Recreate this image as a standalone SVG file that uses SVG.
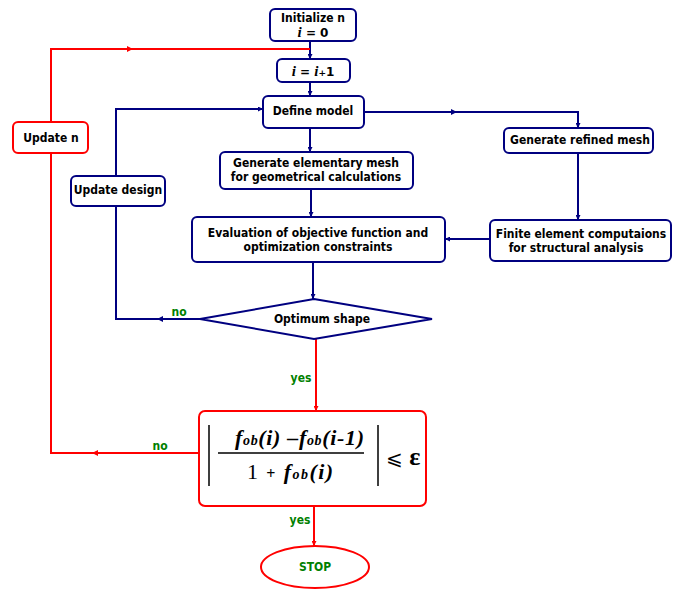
<svg xmlns="http://www.w3.org/2000/svg" width="677" height="589" viewBox="0 0 677 589">
<style>
.bb{fill:#fff;stroke:#000080;stroke-width:2}
.rb{fill:#fff;stroke:#ff0000;stroke-width:2}
.bl{fill:none;stroke:#000080;stroke-width:2}
.rl{fill:none;stroke:#ff0000;stroke-width:2}
.t{font-family:"DejaVu Sans Condensed","DejaVu Sans",Verdana,sans-serif;font-weight:bold;font-size:12px;fill:#000;text-anchor:middle}
.g{font-family:"DejaVu Sans Condensed","DejaVu Sans",Verdana,sans-serif;font-weight:bold;font-size:12px;fill:#008000;text-anchor:middle}
.m{font-family:"Liberation Serif","Times New Roman",serif;font-weight:bold;font-style:italic;fill:#000}
</style>
<defs>
<marker id="ab" viewBox="0 0 10 10" refX="10" refY="5" markerWidth="5" markerHeight="5" orient="auto" markerUnits="userSpaceOnUse"><path d="M0,0L10,5L0,10z" fill="#000080"/></marker>
<marker id="ar" viewBox="0 0 10 10" refX="10" refY="5" markerWidth="5" markerHeight="5" orient="auto" markerUnits="userSpaceOnUse"><path d="M0,0L10,5L0,10z" fill="#ff0000"/></marker>
<marker id="mb" viewBox="0 0 10 10" refX="5" refY="5" markerWidth="6" markerHeight="9" orient="auto" markerUnits="userSpaceOnUse"><path d="M0,0L10,5L0,10z" fill="#000080"/></marker>
<marker id="mr" viewBox="0 0 10 10" refX="5" refY="5" markerWidth="6" markerHeight="9" orient="auto" markerUnits="userSpaceOnUse"><path d="M0,0L10,5L0,10z" fill="#ff0000"/></marker>
</defs>
<rect width="677" height="589" fill="#fff"/>
<g id="connectors">
<path class="bl" d="M310,41V59" marker-end="url(#ab)"/>
<path class="bl" d="M310,82V96" marker-end="url(#ab)"/>
<path class="bl" d="M310,128V152" marker-end="url(#ab)"/>
<path class="bl" d="M311,189V217" marker-end="url(#ab)"/>
<path class="bl" d="M313,262V299" marker-end="url(#ab)"/>
<path class="bl" d="M364,112H454" marker-end="url(#mb)"/>
<path class="bl" d="M454,112H578V128" marker-end="url(#ab)"/>
<path class="bl" d="M578,153V220" marker-end="url(#ab)"/>
<path class="bl" d="M490,239H445" marker-end="url(#ab)"/>
<path class="bl" d="M200,319H160" marker-end="url(#mb)"/>
<path class="bl" d="M160,319H116V206"/>
<path class="bl" d="M116,176V109H263" marker-end="url(#ab)"/>
<path class="rl" d="M310,49H130" />
<path class="rl" d="M51,122V49H130" marker-end="url(#mr)"/>
<path class="rl" d="M51,153V453H95"/>
<path class="rl" d="M199,453H95" marker-end="url(#mr)"/>
<path class="rl" d="M316,339V411" marker-end="url(#ar)"/>
<path class="rl" d="M314,506V546" marker-end="url(#ar)"/>
<text class="g" x="179" y="316">no</text>
<text class="g" x="301" y="382">yes</text>
<text class="g" x="160" y="450">no</text>
<text class="g" x="300" y="524">yes</text>
</g>
<g id="init">
<rect class="bb" x="270" y="9" width="86" height="32" rx="5"/>
<text class="t" x="313" y="22">Initialize n</text>
<text x="313" y="37" text-anchor="middle" style="font-family:'DejaVu Sans',sans-serif;font-weight:bold;font-size:12px"><tspan class="m" font-size="15">i</tspan> = 0</text>
</g>
<g id="incr">
<rect class="bb" x="277" y="59" width="73" height="23" rx="5"/>
<text x="313" y="76" text-anchor="middle" style="font-family:'DejaVu Sans',sans-serif;font-weight:bold;font-size:12px"><tspan class="m" font-size="15">i</tspan> = <tspan class="m" font-size="15">i</tspan><tspan font-size="9">+</tspan>1</text>
</g>
<g id="define">
<rect class="bb" x="263" y="96" width="101" height="32" rx="5"/>
<text class="t" x="313" y="115">Define model</text>
</g>
<g id="elemmesh">
<rect class="bb" x="220" y="152" width="193" height="37" rx="5"/>
<text class="t" x="316" y="167">Generate elementary mesh</text>
<text class="t" x="316" y="181">for geometrical calculations</text>
</g>
<g id="eval">
<rect class="bb" x="192" y="217" width="253" height="45" rx="5"/>
<text class="t" x="318" y="237">Evaluation of objective function and</text>
<text class="t" x="318" y="251">optimization constraints</text>
</g>
<g id="refined">
<rect class="bb" x="504" y="128" width="149" height="25" rx="5"/>
<text class="t" x="580" y="144">Generate refined mesh</text>
</g>
<g id="fem">
<rect class="bb" x="490" y="220" width="181" height="41" rx="5"/>
<text class="t" x="581" y="238">Finite element computaions</text>
<text class="t" x="576" y="252">for structural analysis</text>
</g>
<g id="optimum">
<path class="bb" d="M314,299L432,319L314,339L200,319Z"/>
<text class="t" x="322" y="323">Optimum shape</text>
</g>
<g id="updatedesign">
<rect class="bb" x="71" y="176" width="94" height="30" rx="5"/>
<text class="t" x="118" y="194">Update design</text>
</g>
<g id="updaten">
<rect class="rb" x="13" y="122" width="75" height="31" rx="5"/>
<text class="t" x="51" y="142">Update n</text>
</g>
<g id="convergence">
<rect class="rb" x="199" y="411" width="227" height="95" rx="6"/>
<path d="M209,425V486M378,425V486M218,453H364" stroke="#000" stroke-width="1.5" fill="none"/>
<text class="m" x="235" y="445" font-size="22" textLength="129" lengthAdjust="spacing">f<tspan font-size="14">ob</tspan>(i) –f<tspan font-size="14">ob</tspan>(i-1)</text>
<text x="247" y="479" font-family="'Liberation Serif',serif" font-size="22" fill="#000" textLength="86" lengthAdjust="spacing">1 <tspan font-size="16" font-weight="bold">+</tspan> <tspan class="m">f<tspan font-size="14">ob</tspan>(i)</tspan></text>
<text x="386" y="465" font-family="'DejaVu Serif','Liberation Serif',serif" font-size="20" fill="#000">⩽ <tspan font-family="'Liberation Serif',serif" font-weight="bold" font-size="26">ε</tspan></text>
</g>
<g id="stop">
<ellipse class="rb" cx="315" cy="567" rx="54" ry="21"/>
<text class="g" x="315" y="571">STOP</text>
</g>
</svg>
